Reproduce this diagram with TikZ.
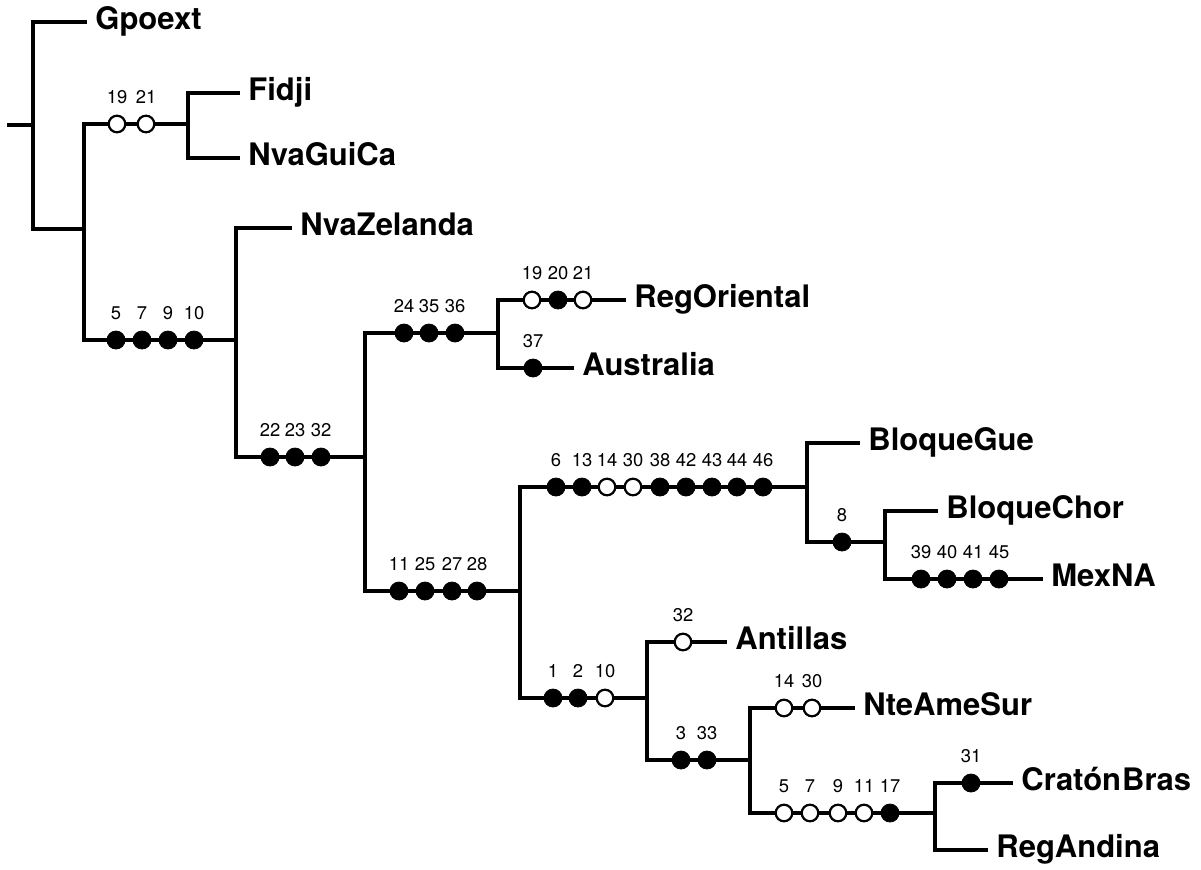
\documentclass[tikz,border=0pt]{standalone}
\usepackage{fontspec}
\setmainfont{TeX Gyre Heros}
\usepackage{tikz}
\tikzset{
  rama/.style={line width=1.6pt},
  taxon/.style={anchor=west, inner xsep=4pt, inner ysep=0pt, text height=0.72em, text depth=0pt, font=\fontsize{15.5}{16}\selectfont\bfseries},
  num/.style={inner sep=0pt, font=\fontsize{9.2}{10}\selectfont},
  lleno/.style={circle, fill=black, draw=black, inner sep=0pt, minimum size=9pt},
  vacio/.style={circle, fill=white, draw=black, line width=1.1pt, inner sep=0pt, minimum size=8.3pt}
}
\newcommand{\marcas}[2]{%
  \foreach \x/\n/\tipo in {#2}{
    \node[\tipo] (m-\x-#1) at (\x,#1) {};
    \node[num] (t-\x-#1) at (\x,{#1-27}) {\n};
  }}
\begin{document}
\begin{tikzpicture}[x=0.5pt,y=-0.5pt]
\useasboundingbox (0,0) rectangle (1201,869);
\coordinate (r0) at (7,125);
\coordinate (R) at (33,125);
\coordinate (A) at (84,229);
\coordinate (F) at (188,124);
\coordinate (B) at (236,340);
\coordinate (C) at (365,457);
\coordinate (D) at (498,333);
\coordinate (E) at (520,591);
\coordinate (G) at (807,487);
\coordinate (H) at (885,542);
\coordinate (I) at (647,698);
\coordinate (J) at (750,760);
\coordinate (K) at (935,813);
\node[taxon] (gpoext) at (87,22) {Gpoext};
\node[taxon] (fidji) at (240,93) {Fidji};
\node[taxon] (nvaguica) at (240,158) {NvaGuiCa};
\node[taxon] (nvazelanda) at (292,228) {NvaZelanda};
\node[taxon] (regoriental) at (626,300) {RegOriental};
\node[taxon] (australia) at (574,368) {Australia};
\node[taxon] (bloquegue) at (860,443) {BloqueGue};
\node[taxon] (bloquechor) at (938,511) {BloqueChor};
\node[taxon] (mexna) at (1043,579) {MexNA};
\node[taxon] (antillas) at (727,642) {Antillas};
\node[taxon] (nteamesur) at (855,708) {NteAmeSur};
\node[taxon] (cratonbras) at (1013,783) {Cratón\kern0.5ptBras};
\node[taxon] (regandina) at (988,850) {RegAndina};
\draw[rama] (r0) -- (R);
\draw[rama] (R) |- (gpoext.west);
\draw[rama] (R) |- (A);
\draw[rama] (A) |- (F);
\draw[rama] (F) |- (fidji.west);
\draw[rama] (F) |- (nvaguica.west);
\draw[rama] (A) |- (B);
\draw[rama] (B) |- (nvazelanda.west);
\draw[rama] (B) |- (C);
\draw[rama] (C) |- (D);
\draw[rama] (D) |- (regoriental.west);
\draw[rama] (D) |- (australia.west);
\draw[rama] (C) |- (E);
\draw[rama] (E) |- (G);
\draw[rama] (G) |- (bloquegue.west);
\draw[rama] (G) |- (H);
\draw[rama] (H) |- (bloquechor.west);
\draw[rama] (H) |- (mexna.west);
\draw[rama] (E) |- (I);
\draw[rama] (I) |- (antillas.west);
\draw[rama] (I) |- (J);
\draw[rama] (J) |- (nteamesur.west);
\draw[rama] (J) |- (K);
\draw[rama] (K) |- (cratonbras.west);
\draw[rama] (K) |- (regandina.west);
\marcas{124}{117/19/vacio, 146/21/vacio}
\marcas{340}{116/5/lleno, 142/7/lleno, 168/9/lleno, 194/10/lleno}
\marcas{457}{270/22/lleno, 295/23/lleno, 321/32/lleno}
\marcas{333}{404/24/lleno, 429/35/lleno, 455/36/lleno}
\marcas{300}{532/19/vacio, 558/20/lleno, 583/21/vacio}
\marcas{368}{533/37/lleno}
\marcas{591}{399/11/lleno, 425/25/lleno, 452/27/lleno, 477/28/lleno}
\marcas{487}{556/6/lleno, 582/13/lleno, 607/14/vacio, 633/30/vacio, 660/38/lleno, 686/42/lleno, 712/43/lleno, 737/44/lleno, 763/46/lleno}
\marcas{542}{842/8/lleno}
\marcas{579}{921/39/lleno, 947/40/lleno, 973/41/lleno, 999/45/lleno}
\marcas{698}{553/1/lleno, 578/2/lleno, 605/10/vacio}
\marcas{642}{683/32/vacio}
\marcas{760}{681/3/lleno, 707/33/lleno}
\marcas{708}{784/14/vacio, 812/30/vacio}
\marcas{813}{784/5/vacio, 810/7/vacio, 838/9/vacio, 864/11/vacio, 890/17/lleno}
\marcas{783}{971/31/lleno}
\end{tikzpicture}
\end{document}
